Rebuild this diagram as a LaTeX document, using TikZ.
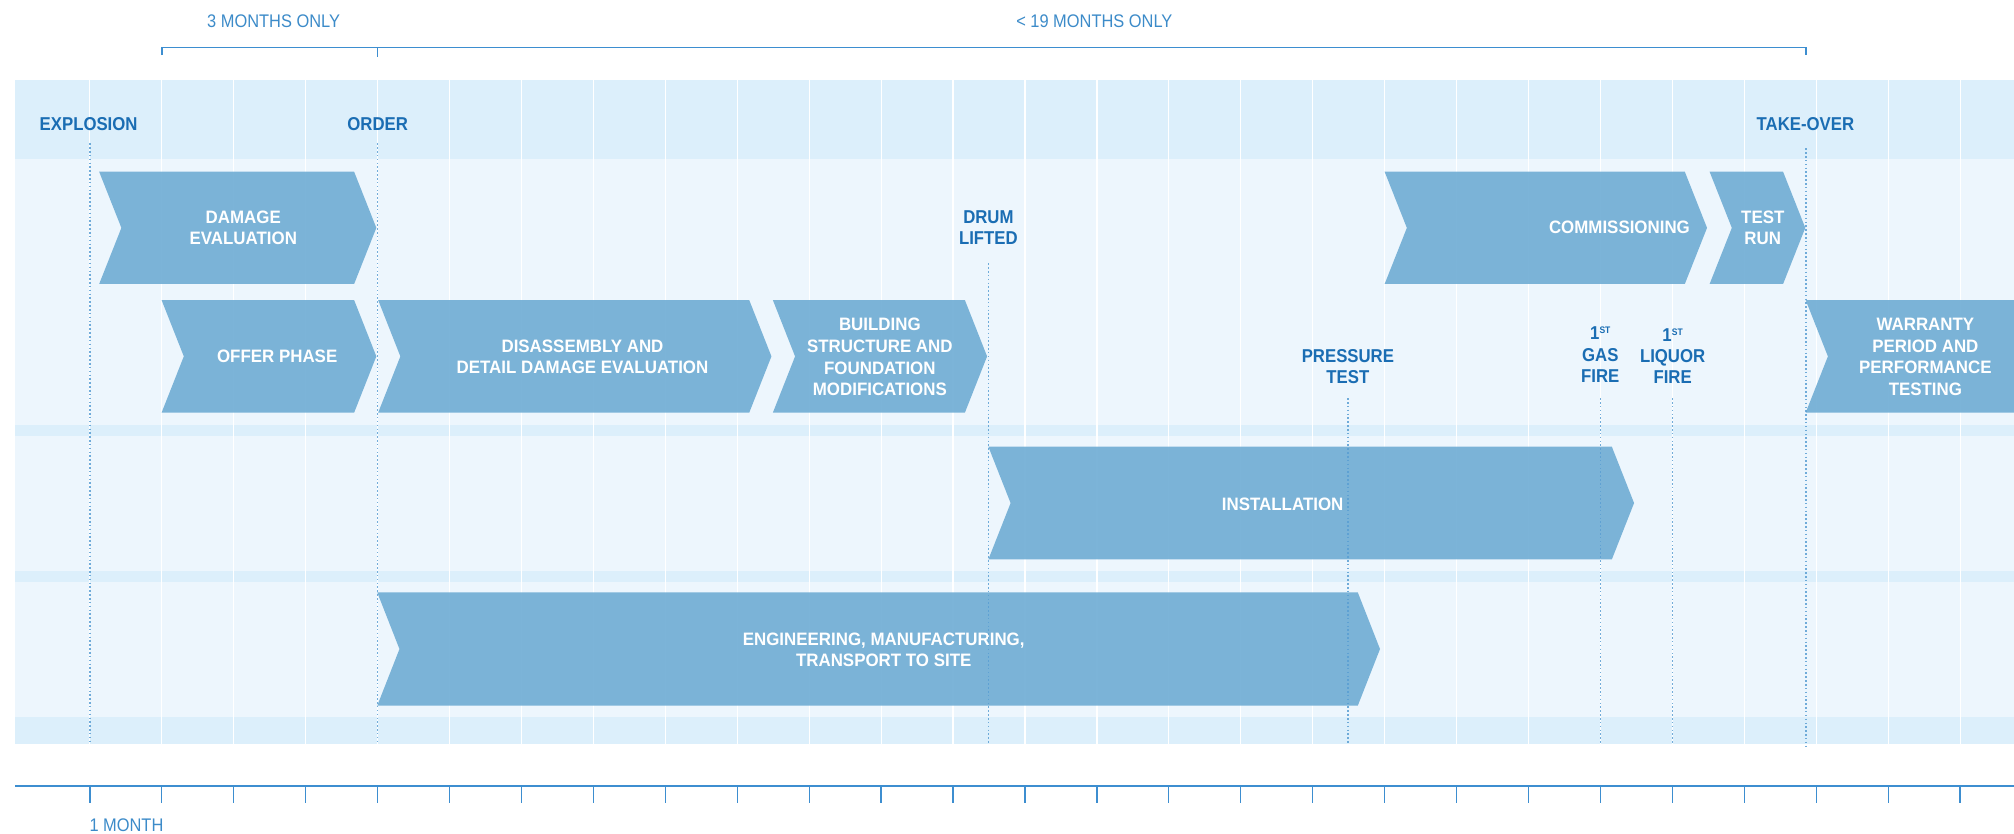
\documentclass[tikz,border=0pt]{standalone}
\usepackage{fontspec}
\newfontfamily\lab[FakeStretch=0.9]{Liberation Sans}
\newfontfamily\wlab[FakeStretch=0.94]{Liberation Sans}
\definecolor{bandD}{HTML}{DCEFFB}
\definecolor{bandL}{HTML}{EDF6FD}
\definecolor{chevC}{HTML}{75B0D6}
\definecolor{labC}{HTML}{1A6DB3}
\definecolor{lightC}{HTML}{3C8BC9}
\definecolor{axisC}{HTML}{3D8ED0}
\definecolor{dotC}{HTML}{5A9ED3}
\newcommand\chevshape[4]{% left x, tip x, top y, bottom y
  \fill[chev] (#1,#3) -- (#2-17.3,#3) -- (#2,{(#3+#4)/2}) -- (#2-17.3,#4) -- (#1,#4) -- (#1+17.3,{(#3+#4)/2}) -- cycle;}
\begin{document}
\begin{tikzpicture}[x=1pt,y=-1pt,
  chev/.style={fill=chevC, fill opacity=0.95},
  wtext/.style={text=white, font={\wlab\bfseries\fontsize{14}{16.8}\selectfont}, align=center, inner sep=0pt},
  btext/.style={text=labC, font={\lab\bfseries\fontsize{14.5}{16.5}\selectfont}, align=center, inner sep=0pt},
  ltext/.style={text=lightC, font={\lab\fontsize{14.2}{16}\selectfont}, inner sep=0pt},
  gridline/.style={draw=white, line width=0.9pt},
  dots/.style={draw=dotC, draw opacity=0.85, line width=1pt, dash pattern=on 1.2pt off 1.8pt},
  bracket/.style={draw=axisC, line width=1.2pt},
]
\useasboundingbox (0,0) rectangle (1568,649);
\fill[white] (0,0) rectangle (1568,649);
% bands
\fill[bandD] (12,62) rectangle (1568,124);
\fill[bandL] (12,124) rectangle (1568,331);
\fill[bandD] (12,331) rectangle (1568,339.5);
\fill[bandL] (12,339.5) rectangle (1568,444.6);
\fill[bandD] (12,444.6) rectangle (1568,453);
\fill[bandL] (12,453) rectangle (1568,558);
\fill[bandD] (12,558) rectangle (1568,579.5);
% month grid
\foreach \k in {0,...,26} {
  \draw[gridline] ({70+56*\k},62) -- ({70+56*\k},579.5);
}
% chevrons
\chevshape{77.2}{293}{133.7}{221.1}
\chevshape{1078}{1329}{133.7}{221.1}
\chevshape{1331}{1405.5}{133.7}{221.1}
\chevshape{125.8}{293}{233.6}{321.3}
\chevshape{294.4}{600.6}{233.6}{321.3}
\chevshape{601.7}{768.5}{233.6}{321.3}
\fill[chev] (1405.8,233.6) -- (1568,233.6) -- (1568,321.3) -- (1405.8,321.3) -- (1423.1,277.45) -- cycle;
\chevshape{769.5}{1272.2}{347.8}{435.5}
\chevshape{293.7}{1074.4}{461.2}{549.4}
% chevron texts
\node[wtext] (dmg) at (189.4,177.4) {DAMAGE\\EVALUATION};
\node[wtext] (com) at (1260.8,177) {COMMISSIONING};
\node[wtext] (test) at (1372.4,177.4) {TEST\\RUN};
\node[wtext] (offer) at (215.8,277.7) {OFFER PHASE};
\node[wtext] (dis) at (453.5,277.7) {DISASSEMBLY AND\\DETAIL DAMAGE EVALUATION};
\node[wtext] (bld) at (685,278) {BUILDING\\STRUCTURE AND\\FOUNDATION\\MODIFICATIONS};
\node[wtext] (war) at (1499,278) {WARRANTY\\PERIOD AND\\PERFORMANCE\\TESTING};
\node[wtext] (inst) at (998.6,392.4) {INSTALLATION};
\node[wtext] (eng) at (688,505.9) {ENGINEERING, MANUFACTURING,\\TRANSPORT TO SITE};
% milestone labels
\node[btext] (expl) at (69,96.3) {EXPLOSION};
\node[btext] (order) at (294,96.3) {ORDER};
\node[btext] (take) at (1405.6,96.3) {TAKE-OVER};
\node[btext] (drum) at (769.5,177.4) {DRUM\\LIFTED};
\node[btext] (press) at (1049.4,285.2) {PRESSURE\\TEST};
\node[btext] (gas) at (1245.9,276.1) {1\raisebox{4.6pt}{\fontsize{7.4}{7.4}\selectfont ST}\\GAS\\FIRE};
\node[btext] (liq) at (1302.2,277.2) {1\raisebox{4.6pt}{\fontsize{7.4}{7.4}\selectfont ST}\\LIQUOR\\FIRE};
% dotted milestone lines
\coordinate (explT) at (70,111.6);   \coordinate (explB) at (70,579.5);
\coordinate (ordT) at (294,111.6);   \coordinate (ordB) at (294,579.5);
\coordinate (drumT) at (769.5,205);  \coordinate (drumB) at (769.5,579.5);
\coordinate (presT) at (1049.5,310); \coordinate (presB) at (1049.5,579.5);
\coordinate (gasT) at (1246,310);    \coordinate (gasB) at (1246,579.5);
\coordinate (liqT) at (1302,310);    \coordinate (liqB) at (1302,579.5);
\coordinate (takeT) at (1406,115.5); \coordinate (takeB) at (1406,582.6);
\foreach \a/\b in {explT/explB,ordT/ordB,drumT/drumB,presT/presB,gasT/gasB,liqT/liqB,takeT/takeB}
  \draw[dots] (\a) -- (\b);
% top brackets
\coordinate (brA) at (126,37); \coordinate (brB) at (294,37); \coordinate (brC) at (1406,37);
\draw[bracket] ([yshift=-6]brA) -- (brA) -- (brC) -- ([yshift=-6]brC);
\draw[bracket] (brB) -- ([yshift=-7]brB);
\node[ltext] (three) at (213,16.5) {3 MONTHS ONLY};
\node[ltext] (nineteen) at (852,16.5) {< 19 MONTHS ONLY};
% bottom axis
\coordinate (axL) at (12,612); \coordinate (axR) at (1568,612);
\draw[draw=axisC, line width=1.3pt] (axL) -- (axR);
\foreach \k in {0,...,26} {
  \draw[draw=axisC, line width=1pt] ({70+56*\k},612) -- ({70+56*\k},625);
}
\node[ltext, anchor=west] (month) at (69.5,642.8) {1 MONTH};
\end{tikzpicture}
\end{document}
